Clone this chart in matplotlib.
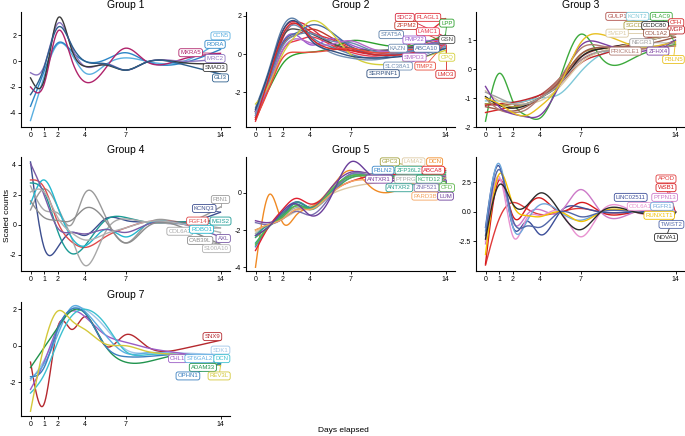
import numpy as np
import matplotlib
matplotlib.use("Agg")
import matplotlib.pyplot as plt

plt.rcParams['font.family'] = ['Liberation Sans', 'DejaVu Sans']

# ---------------- data ----------------
days = [0, 1, 2, 3, 4, 5.5, 7, 8.5, 11, 14]
day_ticks = [0, 1, 2, 4, 7, 14]

g1_genes = ["CCN5", "RORA", "MXRA5", "MRC2", "SMAD3", "GLI3"]
g1_values = [
    [-4.6, -1.2, 1.3, 0.6, -0.9, -0.3, 0.25, 0.0, -0.1, 1.6],
    [-3.5, -0.8, 1.4, 0.8, 0.0, 0.1, 0.65, 0.0, -0.2, 0.9],
    [-2.0, -1.8, 2.3, 0.2, -1.6, -0.6, 1.0, 0.0, 0.1, 0.6],
    [-0.9, -0.4, 2.9, 1.2, -0.4, -0.2, -0.7, -0.1, 0.0, 0.2],
    [-1.3, -1.5, 3.3, 1.0, -0.4, -0.3, -0.7, -0.1, -0.1, -0.2],
    [-2.6, -0.5, 2.6, 1.3, 0.0, -0.2, -0.7, -0.1, -0.2, -1.0],
]

g2_genes = ["SDC2", "PLAGL1", "ZFPM2", "LPP", "LAMC1", "STAT5A", "PMP22", "GSN",
            "KAZN", "ABCA10", "SMPD3", "CPQ", "SLC38A1", "TIMP2", "SERPINF1", "LMO3"]
g2_values = [
    [-3.3, -1.0, 1.2, 1.7, 1.4, 0.6, 0.2, 0.0, 0.3, 0.9],
    [-3.5, -1.5, 0.8, 1.6, 1.2, 0.8, 0.3, 0.1, 0.4, 1.85],
    [-3.0, -1.3, 0.5, 1.0, 1.3, 0.9, 0.4, 0.0, 0.1, 0.6],
    [-3.0, -1.8, -0.5, 0.0, 0.1, 0.3, 0.7, 0.6, 0.4, 1.0],
    [-3.3, -1.7, 0.2, 0.7, 0.9, 0.5, 0.1, -0.1, 0.2, 0.8],
    [-2.8, -0.8, 1.4, 1.8, 1.0, 0.4, 0.0, -0.2, 0.1, 0.5],
    [-3.2, -1.5, 0.6, 1.0, 0.5, 0.8, 0.5, 0.2, 0.3, 0.7],
    [-3.0, -1.2, 0.9, 1.3, 1.1, 0.6, 0.3, 0.2, 0.3, 0.6],
    [-3.1, -1.4, 0.4, 1.0, 1.1, 0.7, 0.6, 0.2, 0.1, 0.3],
    [-2.9, -1.2, 0.6, 1.1, 1.5, 1.2, 0.4, 0.0, 0.0, 0.3],
    [-3.0, -1.6, 0.2, 0.8, 0.6, 0.5, 0.7, 0.3, 0.2, 0.5],
    [-2.6, -1.6, 0.0, 1.0, 1.7, 1.2, 0.0, -0.5, -0.4, 0.2],
    [-3.2, -1.0, 1.0, 1.5, 0.9, 0.1, -0.2, -0.3, 0.0, 0.4],
    [-3.4, -1.8, -0.2, 0.1, 0.1, 0.2, 0.3, 0.1, 0.2, 0.6],
    [-2.9, -0.9, 1.2, 1.7, 0.8, 0.2, -0.1, -0.2, -0.1, 0.3],
    [-3.4, -1.2, 1.0, 1.6, 0.9, 0.3, 0.2, 0.0, 0.0, 0.5],
]

g3_genes = ["GULP1", "KCNT2", "PLAC9", "CFH", "SGCD", "CCDC80", "MGP", "SVEP1",
            "COL1A2", "NEGR1", "PRICKLE1", "ZFHX4", "FBLN5"]
g3_values = [
    [-1.2, -1.25, -1.2, -1.1, -0.9, -0.3, 0.4, 0.7, 0.9, 1.3],
    [-1.1, -1.1, -1.15, -1.1, -1.0, -0.85, -0.1, 0.5, 0.9, 1.5],
    [-1.8, -0.15, -1.1, -1.6, -1.7, -0.3, 1.2, 0.4, 0.4, 0.85],
    [-1.5, -1.4, -1.3, -1.2, -1.0, -0.4, 0.3, 0.6, 0.9, 1.5],
    [-1.2, -1.2, -1.3, -1.2, -1.0, -0.4, 0.5, 0.7, 0.9, 1.3],
    [-0.95, -1.25, -1.35, -1.25, -1.0, -0.5, 0.4, 0.7, 0.9, 1.2],
    [-1.25, -1.2, -1.15, -1.05, -0.9, -0.5, 0.2, 0.5, 0.9, 1.4],
    [-0.75, -1.1, -1.2, -1.2, -1.1, -0.6, 0.2, 0.6, 0.9, 1.2],
    [-1.3, -1.4, -1.45, -1.3, -1.0, -0.4, 0.5, 0.75, 0.8, 1.1],
    [-0.8, -1.0, -1.2, -1.2, -1.0, -0.5, 0.3, 0.6, 0.7, 0.9],
    [-1.0, -1.4, -1.5, -1.4, -1.0, -0.3, 0.7, 0.8, 0.7, 0.8],
    [-0.6, -1.3, -1.55, -1.65, -1.6, -0.5, 0.8, 0.9, 0.6, 1.0],
    [-1.0, -1.2, -1.5, -1.6, -1.3, -0.5, 0.9, 1.2, 0.8, 0.95],
]

g4_genes = ["FBN1", "KCNQ3", "FGF14", "MEIS2", "COL6A3", "ROBO1", "AXL", "CAB39L", "S100A10"]
g4_values = [
    [1.0, 2.4, 1.2, 0.0, 2.1, 0.6, -1.2, 0.0, 0.2, 1.2],
    [4.2, -1.5, -1.5, -0.5, -0.7, 0.4, 0.3, 0.2, 0.1, 0.85],
    [3.0, 2.5, 0.2, -1.1, -1.5, -0.8, -0.2, 0.2, 0.2, 0.3],
    [2.8, 2.2, -0.4, -1.9, -1.4, 0.3, 0.5, 0.2, 0.2, 0.3],
    [2.6, 1.0, 0.8, -0.8, -2.7, -0.5, 0.4, 0.2, 0.1, -0.2],
    [1.4, 3.0, 1.2, -0.8, -1.4, -0.3, -0.8, 0.0, 0.1, 0.2],
    [4.1, 2.0, -0.2, -0.5, -0.6, -0.3, -0.5, 0.0, 0.1, -0.8],
    [1.6, 0.5, 0.3, 0.3, 1.1, 0.3, -1.2, -0.2, -0.1, -1.3],
    [2.2, 2.2, 0.5, -0.5, -1.0, -0.6, -0.2, 0.2, 0.1, -0.5],
]

g5_genes = ["GPC3", "LAMA2", "DCN", "FBLN2", "ZFP36L2", "ABCA8", "ANTXR1", "PTPRG",
            "KCTD12", "ANTXR2", "ZNF521", "CFD", "PARD3B", "LUM"]
g5_values = [
    [-2.0, -1.7, -1.4, -0.9, -0.8, 0.0, 0.8, 0.9, 1.0, 1.1],
    [-2.1, -1.7, -1.4, -1.0, -0.7, -0.1, 0.3, 0.5, 0.7, 0.9],
    [-4.0, -0.1, -1.6, -1.2, -0.8, 0.2, 1.2, 0.3, 0.3, 1.3],
    [-2.9, -1.8, -1.0, -0.5, -0.8, -0.1, 0.9, 1.0, 0.9, 1.2],
    [-2.7, -1.8, -1.1, -0.6, -0.9, 0.0, 1.0, 1.0, 0.9, 1.1],
    [-3.1, -1.8, -0.9, -0.3, -0.6, 0.0, 0.6, 0.9, 1.0, 1.2],
    [-1.5, -1.6, -1.2, -0.5, -0.8, 0.2, 1.1, 1.0, 0.8, 0.9],
    [-2.2, -1.7, -1.3, -0.8, -0.9, -0.1, 0.9, 1.0, 0.8, 0.8],
    [-2.4, -1.8, -1.2, -0.7, -0.8, -0.1, 0.8, 0.9, 0.9, 1.0],
    [-2.3, -1.7, -1.3, -0.5, -0.8, 0.0, 0.9, 0.9, 0.8, 0.8],
    [-1.6, -1.7, -1.4, -1.0, -1.2, -0.2, 1.0, 0.9, 0.8, 0.7],
    [-2.8, -1.8, -1.3, -0.7, -0.9, 0.1, 0.9, 0.9, 0.8, 0.6],
    [-2.0, -1.7, -1.4, -0.9, -0.9, -0.1, 0.6, 0.7, 0.8, 0.8],
    [-2.3, -1.8, -1.0, -0.6, -1.2, -0.3, 1.65, 0.9, 0.8, 0.7],
]

g6_genes = ["APOD", "WSB1", "LINC02511", "PTPN13", "COL6A1", "FGFR1", "RUNX1T1", "TWIST2", "NOVA1"]
g6_values = [
    [-4.5, -0.6, 0.8, 0.3, -0.2, 0.0, 0.3, 0.0, 0.0, 0.0],
    [-4.4, 2.7, -0.3, 0.3, 1.2, 0.0, 0.8, 0.0, 0.0, 0.0],
    [-1.3, 3.9, -1.2, -0.8, -1.9, 0.0, 0.4, 0.0, 0.0, 0.0],
    [-2.7, 2.8, -0.8, -0.3, 0.2, 0.0, 1.9, 0.0, 0.0, 0.0],
    [-2.5, 3.0, -2.0, -0.6, -0.3, 0.0, -2.1, 0.0, 0.0, 0.0],
    [-1.6, 4.1, -1.2, -0.9, 0.6, 0.0, -0.7, 0.0, 0.0, 0.0],
    [-3.6, 3.2, 0.7, -0.3, -0.4, 0.0, -0.8, 0.0, 0.0, 0.0],
    [-2.0, 3.6, -0.6, -1.2, -1.3, 0.0, -0.4, 0.0, 0.0, 0.0],
    [-2.3, 2.3, 0.7, 0.5, 1.6, 0.0, -1.5, 0.0, 0.0, 0.0],
]

g7_genes = ["SNX9", "SDK1", "CHL1", "ST6GAL2", "DCN", "ADAM33", "OPHN1", "REV3L"]
g7_values = [
    [-0.9, -3.2, 1.0, 0.9, 1.6, 0.0, 0.6, 0.0, -0.2, 0.3],
    [-1.9, -0.8, 0.8, 2.0, 2.0, 1.0, -0.2, -0.4, -0.4, -0.5],
    [-2.4, -0.9, 1.0, 1.9, 1.6, 0.6, 0.2, -0.1, -0.4, -0.8],
    [-1.8, -1.0, 0.6, 2.1, 1.9, 0.6, -0.4, -0.4, -0.5, -0.7],
    [-2.6, -1.6, 0.2, 1.6, 2.0, 1.2, -0.3, -0.5, -0.5, -0.7],
    [-1.2, -0.1, 1.0, 1.9, 1.8, 0.0, -0.9, -0.9, -0.5, -1.0],
    [-1.7, -1.2, 0.9, 2.0, 1.8, 0.0, -0.6, -0.6, -0.5, -1.0],
    [-3.6, 0.0, 1.9, 1.4, 0.9, 0.1, 0.0, -0.3, -0.5, -1.1],
]

# ---------------- styles / positions ----------------
g1_colors = ["#5AAFE0", "#2C86C7", "#B0236B", "#8B74C0", "#3A3A3A", "#2C5E8C"]
g2_colors = ["#D7263D", "#E0303A", "#C0392B", "#2CA02C", "#E8384F", "#5B7FA8", "#9B59D0",
             "#4D4D4D", "#6C8AB0", "#4A6FA5", "#B46AC8", "#D4CF3A", "#7290B5", "#E74C3C",
             "#2F4F7F", "#D62828"]
g3_colors = ["#B0504A", "#7EC8D8", "#3DAA3D", "#D62728", "#A89A3A", "#222222", "#C0262D",
             "#D9C9A3", "#9C5A4A", "#A0A0A0", "#B07A70", "#7B3FA0", "#E8C020"]
g4_colors = ["#9A9A9A", "#3C4E8F", "#E04B4B", "#1A9A94", "#A8A8A8", "#22B8CF", "#7A5BA6",
             "#8C8C8C", "#B0B0B0"]
g5_colors = ["#A2A03C", "#DDC9A2", "#F08A24", "#3A87C8", "#2BA58A", "#E02030", "#7A3F9E",
             "#AAAAAA", "#3AA56A", "#2A9D8F", "#7A6FB0", "#5BB54A", "#F4A460", "#6A3D9A"]
g6_colors = ["#E03A3A", "#D7191C", "#3D4F9A", "#CC79C8", "#E892D0", "#6FA8DC", "#F2C200",
             "#5066A8", "#2B2B2B"]
g7_colors = ["#B5282E", "#9EC5E8", "#9A5CC6", "#5DADE2", "#3CC0D0", "#21944E", "#3A7FBF",
             "#D4C83A"]

g1_lab = [(14.0, 1.95), (13.6, 1.3), (11.8, 0.65), (13.6, 0.2), (13.6, -0.5), (14.0, -1.3)]
g2_lab = [(11.0, 1.92), (12.7, 1.92), (11.1, 1.5), (14.1, 1.62), (12.7, 1.17), (10.0, 1.02),
          (11.7, 0.74), (14.1, 0.76), (10.5, 0.31), (12.6, 0.31), (11.7, -0.16), (14.1, -0.16),
          (10.5, -0.62), (12.5, -0.62), (9.4, -1.02), (14.0, -1.05)]
g3_lab = [(9.7, 1.82), (11.2, 1.82), (12.95, 1.82), (14.05, 1.6), (10.95, 1.5), (12.5, 1.5),
          (14.05, 1.35), (9.7, 1.24), (12.6, 1.24), (11.5, 0.91), (10.3, 0.62), (12.7, 0.62),
          (13.85, 0.33)]
g4_lab = [(14.0, 1.7), (12.8, 1.1), (12.3, 0.26), (14.0, 0.26), (11.0, -0.42), (12.6, -0.29),
          (14.2, -0.9), (12.5, -1.03), (13.7, -1.58)]
g5_lab = [(9.9, 1.66), (11.65, 1.66), (13.2, 1.66), (9.4, 1.21), (11.3, 1.21), (13.1, 1.21),
          (9.1, 0.73), (11.1, 0.73), (12.8, 0.73), (10.6, 0.27), (12.6, 0.27), (14.1, 0.27),
          (12.5, -0.18), (14.0, -0.18)]
g6_lab = [(13.3, 2.8), (13.3, 2.06), (10.7, 1.24), (13.2, 1.24), (11.4, 0.48), (13.0, 0.48),
          (12.8, -0.28), (13.7, -1.05), (13.3, -2.15)]
g7_lab = [(13.4, 0.5), (14.0, -0.24), (10.85, -0.71), (12.45, -0.71), (14.1, -0.71),
          (12.7, -1.19), (11.6, -1.66), (13.9, -1.66)]

W, H = 685, 436
panels = [
    ("Group 1", g1_genes, g1_values, g1_colors, g1_lab, (21, 12, 127), (-5.1, 3.8), [-4, -2, 0, 2], "{:.0f}"),
    ("Group 2", g2_genes, g2_values, g2_colors, g2_lab, (246, 12, 127), (-3.8, 2.2), [-2, 0, 2], "{:.0f}"),
    ("Group 3", g3_genes, g3_values, g3_colors, g3_lab, (476, 12, 127), (-2.0, 1.97), [-2, -1, 0, 1], "{:.0f}"),
    ("Group 4", g4_genes, g4_values, g4_colors, g4_lab, (21, 157, 271), (-3.07, 4.53), [-2, 0, 2, 4], "{:.0f}"),
    ("Group 5", g5_genes, g5_values, g5_colors, g5_lab, (246, 157, 271), (-4.2, 1.92), [-4, -2, 0], "{:.0f}"),
    ("Group 6", g6_genes, g6_values, g6_colors, g6_lab, (476, 157, 271), (-5.0, 4.66), [-2.5, 0.0, 2.5], "{:.1f}"),
    ("Group 7", g7_genes, g7_values, g7_colors, g7_lab, (21, 302, 416), (-3.86, 2.4), [-2, 0, 2], "{:.0f}"),
]


def natural_spline(x, y, xs):
    x = np.asarray(x, float)
    y = np.asarray(y, float)
    n = len(x)
    h = np.diff(x)
    A = np.zeros((n, n))
    r = np.zeros(n)
    A[0, 0] = 1
    A[-1, -1] = 1
    for i in range(1, n - 1):
        A[i, i - 1] = h[i - 1]
        A[i, i] = 2 * (h[i - 1] + h[i])
        A[i, i + 1] = h[i]
        r[i] = 3 * ((y[i + 1] - y[i]) / h[i] - (y[i] - y[i - 1]) / h[i - 1])
    c = np.linalg.solve(A, r)
    b = (y[1:] - y[:-1]) / h - h * (2 * c[:-1] + c[1:]) / 3
    d = (c[1:] - c[:-1]) / (3 * h)
    idx = np.clip(np.searchsorted(x, xs) - 1, 0, n - 2)
    dx = xs - x[idx]
    return y[idx] + b[idx] * dx + c[idx] * dx ** 2 + d[idx] * dx ** 3


fig = plt.figure(figsize=(W / 100, H / 100), dpi=100)
xs = np.linspace(days[0], days[-1], 400)
pw = 209

for title, genes, values, colors, labs, (lx, ty, by), ylim, yticks, fmt in panels:
    ax = fig.add_axes([lx / W, 1 - by / H, pw / W, (by - ty) / H])
    for g, vals, col, (tx, tyy) in zip(genes, values, colors, labs):
        ys = natural_spline(days, vals, xs)
        ax.plot(xs, ys, color=col, lw=1.0, zorder=2)
        ax.plot([days[-1], tx], [vals[-1], tyy], color=col, lw=0.6, zorder=3)
        ax.text(tx, tyy, g, color=col, fontsize=4.3, ha="center", va="center", zorder=5,
                bbox=dict(boxstyle="round,pad=0.25,rounding_size=0.35", fc="white", ec=col, lw=0.6))
    ax.set_xlim(-0.7, 14.7)
    ax.set_ylim(*ylim)
    ax.set_xticks(day_ticks)
    ax.set_xticklabels([str(d) for d in day_ticks])
    ax.set_yticks(yticks)
    ax.set_yticklabels([fmt.format(t) for t in yticks])
    for s in ["top", "right"]:
        ax.spines[s].set_visible(False)
    for s in ["left", "bottom"]:
        ax.spines[s].set_linewidth(0.8)
    ax.tick_params(labelsize=5, length=2, width=0.6, pad=1.5)
    ax.set_title(title, fontsize=7.5, pad=3)

fig.text(8 / W, 1 - 215 / H, "Scaled counts", rotation=90, ha="center", va="center", fontsize=6)
fig.text(343 / W, 1 - 430 / H, "Days elapsed", ha="center", va="center", fontsize=6)

fig.savefig("out.png", dpi=100)
